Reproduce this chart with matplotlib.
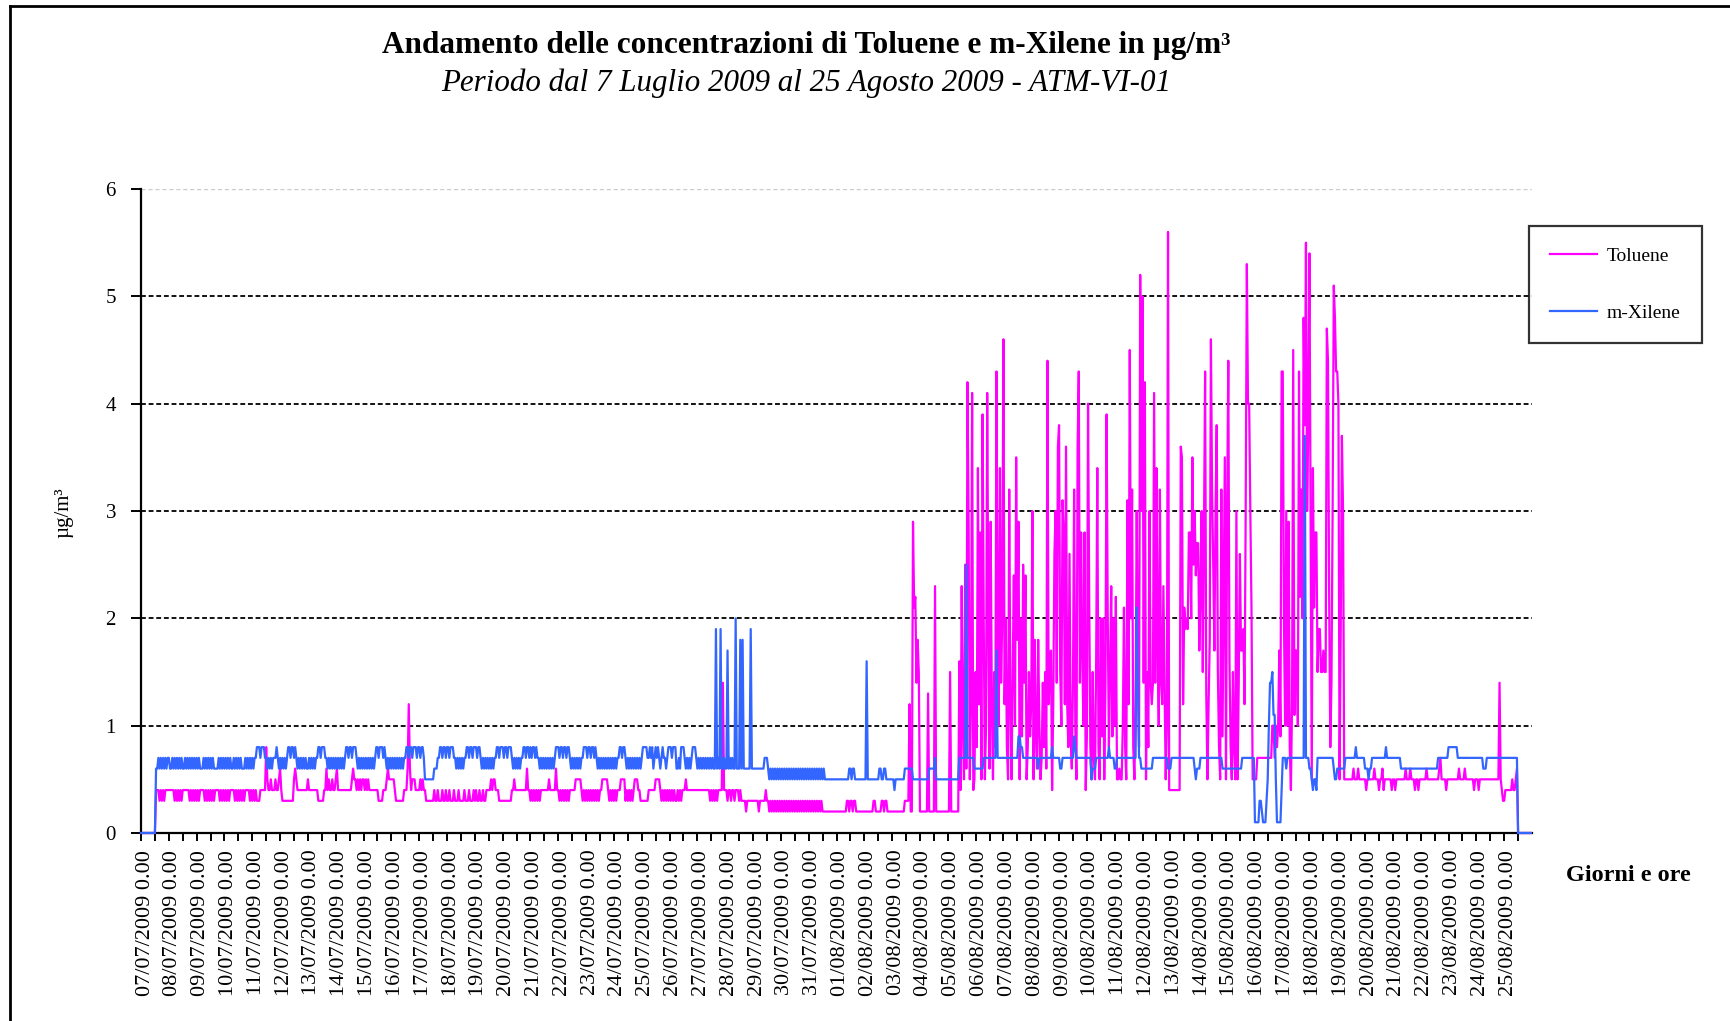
import numpy as np
import pandas as pd
import matplotlib
matplotlib.use('Agg')
import matplotlib.pyplot as plt
from matplotlib.lines import Line2D
from matplotlib.transforms import ScaledTranslation

# Hourly concentrations, in tenths of ug/m3.
# One string per day (24 hourly values), from 07/07/2009 to 25/08/2009.
toluene_days = [
    "0 0 0 0 0 0 0 0 0 0 0 0 0 4 4 4 3 4 3 4 3 4 4 4",
    "4 4 4 4 4 3 4 3 4 3 4 3 4 4 4 4 4 4 3 4 3 4 3 4",
    "3 4 3 4 4 4 4 3 4 3 4 3 4 3 4 3 4 4 4 4 3 4 3 4",
    "3 4 3 4 3 4 4 4 4 3 4 3 4 3 4 3 4 3 4 4 4 4 3 4",
    "3 4 3 4 3 3 3 4 4 4 4 4 8 5 4 4 5 4 4 4 5 4 4 5",
    "6 4 3 3 3 3 3 3 3 3 3 3 5 6 5 4 4 4 4 4 4 4 4 4",
    "5 4 4 4 4 4 4 4 4 3 3 3 3 3 4 4 6 4 5 4 4 5 4 4",
    "5 6 4 4 4 4 4 4 4 4 4 4 4 4 5 6 5 5 4 5 4 5 4 5",
    "5 4 5 4 5 4 4 4 4 4 4 4 4 3 3 3 3 4 4 4 5 6 5 5",
    "5 5 5 4 3 3 3 3 3 3 3 4 4 4 6 12 6 4 5 5 5 4 4 4",
    "4 5 4 5 4 4 3 3 3 3 3 3 3 4 3 3 4 3 3 3 4 3 3 4",
    "3 3 4 3 3 3 4 3 3 3 4 3 3 3 3 4 3 3 3 4 3 3 3 4",
    "3 4 3 3 4 3 3 4 3 3 4 4 4 4 5 4 5 5 4 4 4 3 3 3",
    "3 3 3 3 3 3 3 3 4 4 5 4 4 4 4 4 4 4 4 4 4 6 4 4",
    "3 4 3 4 3 4 3 4 3 4 4 4 4 4 4 4 5 4 4 4 4 4 6 4",
    "4 3 4 3 4 3 4 3 4 3 4 4 4 4 4 5 5 5 5 5 4 3 4 3",
    "4 3 4 3 4 3 4 3 4 3 4 3 4 4 5 5 5 5 5 4 3 4 3 4",
    "3 4 3 4 4 4 5 5 5 5 3 4 3 4 3 4 3 4 5 5 5 4 4 3",
    "3 3 3 3 3 3 4 4 4 4 4 4 5 5 5 5 4 3 4 3 4 3 4 3",
    "4 3 4 3 4 3 3 4 3 4 3 4 4 4 5 4 4 4 4 4 4 4 4 4",
    "4 4 4 4 4 4 4 4 4 4 4 3 4 3 4 3 4 3 4 4 4 4 14 4",
    "4 4 3 4 4 3 4 4 3 4 4 4 3 4 3 3 3 3 2 3 3 3 3 3",
    "3 3 3 3 3 2 3 3 3 3 3 4 3 3 2 3 2 3 2 3 2 3 2 3",
    "2 3 2 3 2 3 2 3 2 3 2 3 2 3 2 3 2 3 2 3 2 3 2 3",
    "2 3 2 3 2 3 2 3 2 3 2 3 2 2 2 2 2 2 2 2 2 2 2 2",
    "2 2 2 2 2 2 2 2 2 3 3 2 3 3 2 3 3 2 2 2 2 2 2 2",
    "2 2 2 2 2 2 2 2 3 3 2 2 2 2 2 3 3 2 3 3 2 2 2 2",
    "2 2 2 2 2 2 2 2 2 2 2 3 3 3 3 12 2 2 29 21 22 14 18 15",
    "2 2 2 2 2 2 2 13 2 2 2 2 2 23 2 2 2 2 2 2 2 2 2 2",
    "2 2 15 2 2 2 2 2 2 2 16 4 23 10 5 25 6 42 28 5 12 41 4 5",
    "15 8 34 12 28 5 39 20 5 10 41 20 6 29 12 5 15 8 43 19 10 34 14 20",
    "46 12 20 8 5 32 12 5 15 24 10 35 18 29 5 20 9 25 14 24 5 8 15 9",
    "12 30 5 18 9 6 18 10 5 7 14 8 15 6 44 12 15 17 4 12 26 30 14 36",
    "38 15 10 31 28 12 36 12 8 26 9 6 14 32 10 5 36 43 14 28 17 10 28 4",
    "9 40 22 8 5 15 7 5 16 34 8 5 20 9 20 5 14 39 20 8 15 23 9 20",
    "10 22 5 5 6 5 5 10 21 8 5 31 12 45 20 32 8 5 12 30 15 8 52 30",
    "50 14 42 5 15 8 30 14 12 14 41 14 34 19 10 32 14 12 23 14 5 10 56 4",
    "4 4 4 4 4 4 4 4 4 36 35 12 21 19 20 19 28 28 20 35 25 30 24 27",
    "27 17 23 30 15 28 43 13 5 12 18 46 32 25 17 30 38 15 8 5 32 9 22 35",
    "5 30 44 16 8 5 15 8 5 30 5 14 26 17 17 19 12 30 53 40 40 30 21 5",
    "5 5 5 7 7 7 7 7 7 7 7 7 7 7 7 7 10 10 7 10 8 10 17 9",
    "43 43 20 10 30 10 29 8 4 12 45 11 17 17 10 43 22 32 20 48 38 55 30 38",
    "54 30 5 34 21 28 28 15 19 19 15 15 17 15 15 47 44 22 8 14 30 51 48 43",
    "43 40 5 19 37 30 5 5 5 5 5 5 5 5 6 5 5 5 6 5 5 5 5 5",
    "5 4 5 5 5 5 5 5 6 5 5 5 4 5 5 6 4 5 5 5 5 5 5 4",
    "5 5 4 5 5 5 5 5 5 5 5 6 5 5 5 6 5 5 5 4 5 5 4 5",
    "5 5 5 5 5 6 5 5 5 5 5 5 5 5 5 5 6 7 5 5 5 5 4 5",
    "5 5 5 5 5 5 5 5 5 6 5 5 5 5 6 5 5 5 5 5 5 5 4 5",
    "5 5 4 5 5 5 5 5 5 5 5 5 5 5 5 5 5 5 5 5 14 5 4 3",
    "3 4 4 4 4 4 4 5 4 4 5 6 0 0 0 0 0 0 0 0 0 0 0 0",
]

xilene_days = [
    "0 0 0 0 0 0 0 0 0 0 0 0 0 6 6 7 6 7 6 7 6 7 6 7",
    "7 6 6 7 6 7 6 7 6 7 6 7 6 6 7 6 7 6 7 6 7 6 7 6",
    "7 6 7 6 6 6 7 6 7 6 7 6 7 6 7 6 6 6 6 7 6 7 6 7",
    "6 7 6 7 6 7 6 6 7 6 7 6 7 6 7 6 6 6 7 6 7 6 7 6",
    "7 6 7 7 8 8 8 7 8 8 8 7 7 6 7 6 7 6 7 7 7 8 7 6",
    "7 6 7 6 7 6 7 8 8 7 8 8 7 8 7 6 7 6 7 6 7 6 7 6",
    "6 7 6 7 6 7 6 7 7 8 8 7 8 8 8 7 7 6 7 6 7 6 7 6",
    "7 6 7 6 7 6 7 6 7 8 8 7 8 8 7 8 8 8 7 6 7 6 7 6",
    "7 6 7 6 7 6 7 6 7 6 7 8 8 7 8 8 8 7 8 7 6 7 6 7",
    "6 7 6 7 6 7 6 7 6 7 6 7 7 8 8 7 8 8 7 8 8 8 7 8",
    "8 7 8 8 7 5 5 5 5 5 5 5 5 6 6 6 7 7 8 8 7 8 8 7",
    "8 8 7 8 8 8 7 7 6 7 6 7 6 7 6 7 7 8 8 7 8 8 7 8",
    "8 8 7 8 8 7 6 7 6 7 6 7 6 7 6 7 6 7 7 8 8 7 8 8",
    "8 7 8 8 7 8 8 8 7 6 7 6 7 6 7 6 7 7 8 8 7 8 8 7",
    "8 7 8 8 7 8 7 7 6 7 6 7 6 7 6 7 6 7 6 7 6 7 8 8",
    "8 7 8 8 7 8 8 7 8 8 7 6 7 6 7 6 7 6 7 6 7 7 8 8",
    "8 7 8 8 7 8 8 7 8 7 6 7 6 7 6 7 6 7 6 7 6 7 6 7",
    "6 7 6 7 7 8 8 7 8 8 7 6 7 6 7 6 7 6 7 6 7 6 7 6",
    "7 8 8 8 8 7 7 8 7 8 6 7 8 7 8 7 6 7 8 7 7 6 7 8",
    "8 8 7 8 8 8 6 6 7 6 8 8 8 7 6 7 6 7 6 7 8 8 8 7",
    "6 7 6 7 6 7 6 7 6 7 6 7 6 7 6 6 19 6 7 6 19 6 6 7",
    "6 6 17 6 7 6 7 6 6 20 6 6 6 18 6 18 6 6 6 6 6 6 19 6",
    "6 6 6 6 6 6 6 6 6 6 7 7 7 6 5 6 5 6 5 6 5 6 5 6",
    "5 6 5 6 5 6 5 6 5 6 5 6 5 6 5 6 5 6 5 6 5 6 5 6",
    "5 6 5 6 5 6 5 6 5 6 5 6 5 6 5 5 5 5 5 5 5 5 5 5",
    "5 5 5 5 5 5 5 5 5 5 5 6 6 5 6 6 5 5 5 5 5 5 5 5",
    "5 5 16 5 5 5 5 5 5 5 5 5 5 6 6 5 5 6 6 5 5 5 5 5",
    "5 5 4 5 5 5 5 5 5 5 5 6 6 6 6 6 6 6 5 5 5 5 5 5",
    "5 5 5 5 5 5 5 5 6 6 6 6 6 7 5 5 5 5 5 5 5 5 5 5",
    "5 5 5 5 5 5 5 5 5 5 7 7 7 7 7 7 25 7 7 7 7 7 7 6",
    "6 6 6 6 6 6 6 7 7 7 7 7 7 7 7 7 7 7 17 7 7 7 7 7",
    "7 7 7 7 7 7 7 7 7 7 7 7 7 9 9 8 8 7 7 7 7 7 7 7",
    "7 7 7 7 7 7 6 7 7 7 7 7 7 7 7 7 7 7 8 7 7 7 7 7",
    "7 6 6 7 7 7 7 7 7 7 7 7 7 9 8 7 7 7 7 7 7 7 7 7",
    "7 7 7 7 5 6 6 6 7 7 7 7 7 7 7 7 7 7 7 8 7 7 7 7",
    "6 6 7 7 7 7 7 7 7 7 7 7 7 7 7 7 7 7 7 21 15 7 7 6",
    "6 6 6 6 6 6 6 6 6 7 7 7 7 7 7 7 7 7 7 7 7 7 6 6",
    "6 7 7 7 7 7 7 7 7 7 7 7 7 7 7 7 7 7 7 7 7 6 5 6",
    "6 6 7 7 7 7 7 7 7 7 7 7 7 7 7 7 7 7 7 7 7 6 6 6",
    "6 6 6 6 6 6 6 6 6 6 6 6 6 6 7 7 7 7 7 7 7 7 7 7",
    "7 1 1 1 1 3 3 2 1 1 1 3 5 10 14 14 15 11 11 5 1 1 1 1",
    "4 7 7 7 6 7 7 7 7 7 7 7 7 7 7 7 7 7 7 7 37 7 7 7",
    "6 6 5 4 5 5 4 7 7 7 7 7 7 7 7 7 7 7 7 7 7 6 5 5",
    "6 6 6 6 6 6 6 7 7 7 7 7 7 7 7 7 8 7 7 7 7 7 7 7",
    "6 6 6 5 6 6 7 7 7 7 7 7 7 7 7 7 7 7 8 7 7 7 7 7",
    "7 7 7 7 7 7 7 6 6 6 6 6 6 6 6 6 6 6 6 6 6 6 6 6",
    "6 6 6 6 6 6 6 6 6 6 6 6 6 6 6 7 7 7 7 7 7 7 7 7",
    "8 8 8 8 8 8 8 8 7 7 7 7 7 7 7 7 7 7 7 7 7 7 7 7",
    "7 7 7 7 7 7 6 6 6 7 7 7 7 7 7 7 7 7 7 7 7 7 7 7",
    "7 7 7 7 7 7 7 7 7 7 7 7 0 0 0 0 0 0 0 0 0 0 0 0",
]

first_day = '2009-07-07'
series_names = ['Toluene', 'm-Xilene']
series_colors = ['#FF00FF', '#3366FF']
y_ticks = [0, 1, 2, 3, 4, 5, 6]


def unpack(days):
    vals = []
    for i, s in enumerate(days):
        parts = [int(v) for v in s.split()]
        assert len(parts) == 24, (i, len(parts))
        vals.extend(parts)
    return np.array(vals) / 10.0


toluene = unpack(toluene_days)
xilene = unpack(xilene_days)
hours = np.arange(len(toluene))
day_labels = [d.strftime('%d/%m/%Y') + ' 0.00'
              for d in pd.date_range(first_day, periods=len(toluene_days), freq='D')]

plt.rcParams['font.family'] = ['Liberation Serif', 'DejaVu Serif']
plt.rcParams['lines.scale_dashes'] = False

W, H = 1730, 1021
fig = plt.figure(figsize=(W / 100, H / 100), dpi=100)
ax = fig.add_axes([141 / W, 1 - 833 / H, (1532 - 141) / W, (833 - 189) / H])

# dashed gridlines (the top one is pale in the original)
for y in y_ticks[1:-1]:
    ax.axhline(y, color='black', lw=1.3, ls=(0, (3.5, 2)), zorder=1)
ax.axhline(y_ticks[-1], color='#cccccc', lw=1.0, ls=(0, (3, 2)), zorder=1)

ax.plot(hours, toluene, color=series_colors[0], lw=1.6, label=series_names[0],
        zorder=3, clip_on=False)
ax.plot(hours, xilene, color=series_colors[1], lw=1.6, label=series_names[1],
        zorder=4, clip_on=False)

ax.set_xlim(0, len(hours))
ax.set_ylim(0, 6)

for side in ['top', 'right']:
    ax.spines[side].set_visible(False)
for side in ['left', 'bottom']:
    ax.spines[side].set_linewidth(1.6)
    ax.spines[side].set_zorder(2)

ax.set_xticks(np.arange(0, len(hours), 24))
ax.set_xticklabels(day_labels, rotation=90, va='top', ha='center')
ax.set_xticks(np.arange(12, len(hours), 24), minor=True)
ax.tick_params(axis='x', which='both', direction='out', length=6, width=1.4,
               labelsize=16, pad=6)
ax.set_yticks(y_ticks)
ax.tick_params(axis='y', direction='out', length=7, width=1.4, labelsize=15, pad=11)
for lab in ax.get_xticklabels():
    lab.set_transform(lab.get_transform() + ScaledTranslation(4 / 100, 0, fig.dpi_scale_trans))

# titles and axis names
fig.text(806 / W, 1 - 46 / H, 'Andamento delle concentrazioni di Toluene e m-Xilene in µg/m³',
         fontsize=22.5, fontweight='bold', ha='center', va='center')
fig.text(806 / W, 1 - 83 / H, 'Periodo dal 7 Luglio 2009 al 25 Agosto 2009 - ATM-VI-01',
         fontsize=22.3, style='italic', ha='center', va='center')
fig.text(64 / W, 1 - 513 / H, 'µg/m³', fontsize=15, rotation=90, ha='center', va='center')
fig.text(1628 / W, 1 - 875 / H, 'Giorni e ore', fontsize=17.5, fontweight='bold',
         ha='center', va='center')

leg = ax.legend(loc='upper left', bbox_to_anchor=(1529 / W, 1 - 226 / H),
                bbox_transform=fig.transFigure, frameon=True, fancybox=False,
                edgecolor='black', fontsize=14, handlelength=2.4, handletextpad=0.5,
                labelspacing=2.0, borderpad=1.1, borderaxespad=0)
leg.get_frame().set_linewidth(1.6)

# outer frame of the chart area
fig.add_artist(Line2D([10 / W, 10 / W], [0, 1 - 6 / H], transform=fig.transFigure,
                      color='black', lw=2))
fig.add_artist(Line2D([10 / W, 1], [1 - 6 / H, 1 - 6 / H], transform=fig.transFigure,
                      color='black', lw=2))

fig.savefig('out.png', dpi=100)
